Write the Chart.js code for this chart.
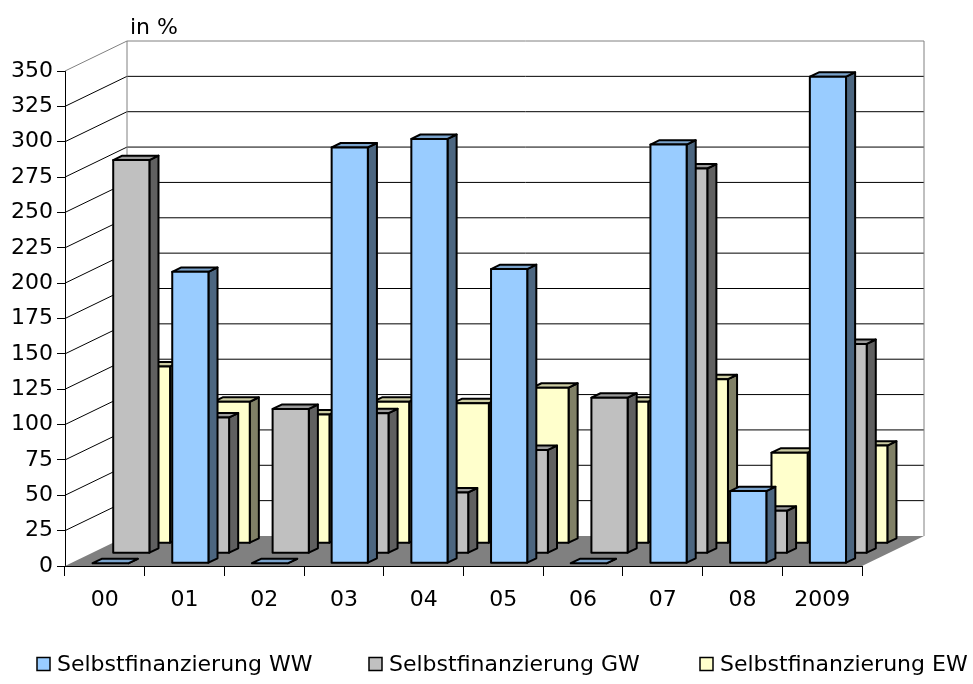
<!DOCTYPE html>
<html lang="de">
<head>
<meta charset="utf-8">
<title>Selbstfinanzierung</title>
<script src="https://cdn.jsdelivr.net/npm/chart.js@4.4.1/dist/chart.umd.min.js"></script>
<style>
  html, body { margin: 0; padding: 0; background: #fff; }
  canvas { display: block; }
</style>
</head>
<body>
<canvas id="chart" width="973" height="684"></canvas>
<script>
// --- Daten ---
const YEARS = ['00', '01', '02', '03', '04', '05', '06', '07', '08', '2009'];
const WW = [0, 206, 0, 294, 300, 208, 0, 296, 51, 344];
const GW = [278, 96, 102, 99, 43, 73, 110, 272, 30, 148];
const EW = [125, 100, 91, 100, 99, 110, 100, 116, 64, 69];
const SERIES_NAMES = ['Selbstfinanzierung WW', 'Selbstfinanzierung GW', 'Selbstfinanzierung EW'];
const Y_MAX = 350;
const Y_STEP = 25;
const Y_UNIT = 'in %';

// --- Farben (Vorderseite / Deckel / Seite) ---
const COLORS = [
    { front: '#99CCFF', top: '#7AA3CC', side: '#4C6680' },
    { front: '#C0C0C0', top: '#9A9A9A', side: '#606060' },
    { front: '#FFFFCC', top: '#CCCCA3', side: '#808066' }
];

// --- 3D-Geometrie ---
const DEPTH_X = 62;      // Tiefe der Bodenplatte nach rechts
const DEPTH_Y = 30;      // ... und nach oben
const ROWS = 3;          // WW vorne, GW Mitte, EW hinten
const BAR_DEPTH = 0.44;  // Anteil einer Reihe, den die Säule tief ist
const LEGEND_X = [37, 369, 700];
const LEGEND_Y = 664;

Chart.defaults.font.family = '"DejaVu Sans", sans-serif';
Chart.defaults.font.size = 22;
Chart.defaults.color = '#000';

// Verschiebung einer Reihe in die Tiefe (back = Rückseite der Säule)
function rowShift(row, back) {
    const t = (row + (1 - BAR_DEPTH) / 2 + (back ? BAR_DEPTH : 0)) / ROWS;
    return [t * DEPTH_X, -t * DEPTH_Y];
}

function face(ctx, pts, fill) {
    ctx.beginPath();
    ctx.moveTo(pts[0][0], pts[0][1]);
    for (let i = 1; i < pts.length; i++) ctx.lineTo(pts[i][0], pts[i][1]);
    ctx.closePath();
    ctx.fillStyle = fill;
    ctx.fill();
    ctx.stroke();
}

// Wände, Boden und Säulen als Quader zeichnen
const box3d = {
    id: 'box3d',
    beforeDatasetsDraw(chart) {
        const { ctx, chartArea: a, scales: { y } } = chart;
        const L = a.left, R = a.right, T = a.top, B = a.bottom;
        ctx.save();

        // Boden
        ctx.fillStyle = '#808080';
        ctx.beginPath();
        ctx.moveTo(L, B); ctx.lineTo(R, B);
        ctx.lineTo(R + DEPTH_X, B - DEPTH_Y); ctx.lineTo(L + DEPTH_X, B - DEPTH_Y);
        ctx.closePath();
        ctx.fill();

        // Gitternetz an linker und hinterer Wand
        ctx.lineWidth = 1;
        ctx.strokeStyle = '#000';
        ctx.beginPath();
        for (let v = Y_STEP; v < Y_MAX; v += Y_STEP) {
            const py = y.getPixelForValue(v);
            ctx.moveTo(L, py);
            ctx.lineTo(L + DEPTH_X, py - DEPTH_Y);
            ctx.lineTo(R + DEPTH_X, py - DEPTH_Y);
        }
        ctx.stroke();

        // Wandkanten
        ctx.strokeStyle = '#808080';
        ctx.beginPath();
        ctx.moveTo(L, T);
        ctx.lineTo(L + DEPTH_X, T - DEPTH_Y);
        ctx.lineTo(R + DEPTH_X, T - DEPTH_Y);
        ctx.lineTo(R + DEPTH_X, B - DEPTH_Y);
        ctx.moveTo(L + DEPTH_X, T - DEPTH_Y);
        ctx.lineTo(L + DEPTH_X, B - DEPTH_Y);
        ctx.stroke();

        // Säulen: hintere Reihe zuerst
        ctx.lineWidth = 2;
        ctx.strokeStyle = '#000';
        ctx.lineJoin = 'round';
        for (let d = chart.data.datasets.length - 1; d >= 0; d--) {
            const meta = chart.getDatasetMeta(d);
            const [fx, fy] = rowShift(d, false);
            const [bx, by] = rowShift(d, true);
            const c = COLORS[d];
            meta.data.forEach(bar => {
                const p = bar.getProps(['x', 'y', 'base', 'width'], true);
                const l = p.x - p.width / 2, r = p.x + p.width / 2;
                const top = Math.min(p.y, p.base), bot = p.base;
                face(ctx, [[r + fx, top + fy], [r + bx, top + by], [r + bx, bot + by], [r + fx, bot + fy]], c.side);
                face(ctx, [[l + fx, top + fy], [r + fx, top + fy], [r + bx, top + by], [l + bx, top + by]], c.top);
                if (bot - top > 0.5) {
                    face(ctx, [[l + fx, top + fy], [r + fx, top + fy], [r + fx, bot + fy], [l + fx, bot + fy]], c.front);
                }
            });
        }
        ctx.restore();
        return false;
    },
    afterDraw(chart) {
        const { ctx, chartArea: a } = chart;
        ctx.save();
        ctx.font = '22px "DejaVu Sans", sans-serif';
        ctx.fillStyle = '#000';
        ctx.textBaseline = 'alphabetic';
        ctx.fillText(Y_UNIT, a.left + DEPTH_X + 3, 34);

        // Legende
        ctx.textBaseline = 'middle';
        ctx.lineWidth = 1.5;
        chart.data.datasets.forEach((ds, i) => {
            const x = LEGEND_X[i];
            ctx.fillStyle = COLORS[i].front;
            ctx.fillRect(x, LEGEND_Y - 6.5, 13, 13);
            ctx.strokeStyle = '#000';
            ctx.strokeRect(x, LEGEND_Y - 6.5, 13, 13);
            ctx.fillStyle = '#000';
            ctx.fillText(ds.label, x + 20, LEGEND_Y + 1);
        });
        ctx.restore();
    }
};

const seriesData = [WW, GW, EW];

new Chart(document.getElementById('chart'), {
    type: 'bar',
    data: {
        labels: YEARS,
        datasets: seriesData.map((values, i) => ({
            label: SERIES_NAMES[i],
            data: values,
            backgroundColor: COLORS[i].front,
            borderColor: '#000',
            borderWidth: 2,
            grouped: false,
            barPercentage: 0.454,
            categoryPercentage: 1
        }))
    },
    options: {
        responsive: false,
        animation: false,
        events: [],
        layout: { padding: { left: 0, right: 111, top: 71, bottom: 68 } },
        plugins: {
            legend: { display: false },
            tooltip: { enabled: false }
        },
        scales: {
            x: {
                z: 1,
                grid: { drawOnChartArea: false, offset: true, tickLength: 10, color: '#000' },
                border: { color: '#000', width: 1 },
                ticks: { padding: 11, maxRotation: 0, autoSkip: false },
                afterFit(scale) { scale.height = 50; }
            },
            y: {
                z: 1,
                min: 0,
                max: Y_MAX,
                grid: { drawOnChartArea: false, tickLength: 8, color: '#000' },
                border: { color: '#000', width: 1 },
                ticks: { stepSize: Y_STEP, padding: 4 },
                afterFit(scale) { scale.width = 65; }
            }
        }
    },
    plugins: [box3d]
});
</script>
</body>
</html>
